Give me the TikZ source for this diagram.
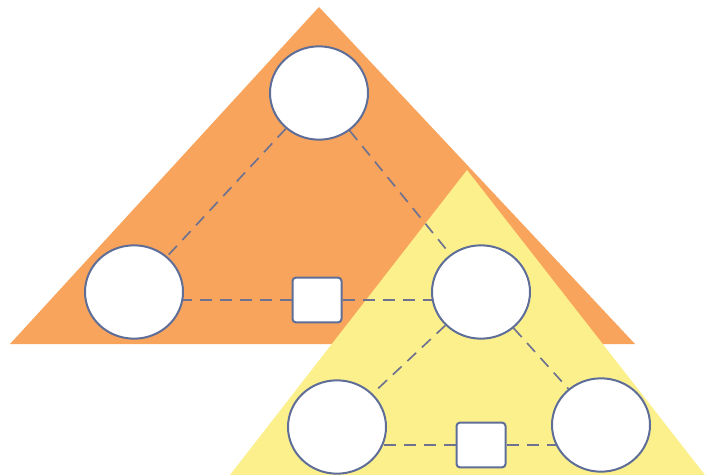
\documentclass[tikz,border=0pt]{standalone}
\usetikzlibrary{shapes.geometric}
\definecolor{tri1}{HTML}{F8A45C}
\definecolor{tri2}{HTML}{FBF08C}
\definecolor{rim}{HTML}{5E6E98}
\definecolor{dashc}{HTML}{6E7290}
\pgfdeclarelayer{back}
\pgfdeclarelayer{mid}
\pgfsetlayers{back,mid,main}
\tikzset{
  person/.style={ellipse,draw=rim,line width=0.6mm,fill=white,minimum width=29.4mm,minimum height=28mm,inner sep=0pt},
  link/.style={rectangle,draw=rim,line width=0.6mm,fill=white,rounded corners=1mm,minimum width=14.7mm,minimum height=13.4mm,inner sep=0pt},
  tie/.style={draw=dashc,line width=0.5mm,dash pattern=on 3.6mm off 2.4mm}
}
\begin{document}
\begin{tikzpicture}[x=0.3mm,y=-0.3mm]
\useasboundingbox (0,0) rectangle (705,475);
\begin{pgfonlayer}{back}
\fill[white] (0,0) rectangle (705,475);
\fill[tri1] (319,7)--(10,344)--(635,344)--cycle;
\fill[tri2] (467,170)--(230,475)--(705,475)--cycle;
\end{pgfonlayer}
% upper group
\node[person] (top) at (319,93) {};
\node[person] (left) at (134,292) {};
\node[person] (mid) at (481,292) {};
\node[link] (sq1) at (317,300) {};
% lower group
\node[person] (bl) at (337,427) {};
\node[person] (br) at (601,425) {};
\node[link] (sq2) at (481,445) {};
\begin{pgfonlayer}{mid}
\draw[tie] (top)--(left);
\draw[tie] (top)--(mid);
\draw[tie] (sq1)--(sq1-|left);
\draw[tie] (sq1)--(sq1-|mid);
\draw[tie] (mid)--(bl);
\draw[tie] (mid)--(br);
\draw[tie] (sq2)--(sq2-|bl);
\draw[tie] (sq2)--(sq2-|br);
\end{pgfonlayer}
\end{tikzpicture}
\end{document}
